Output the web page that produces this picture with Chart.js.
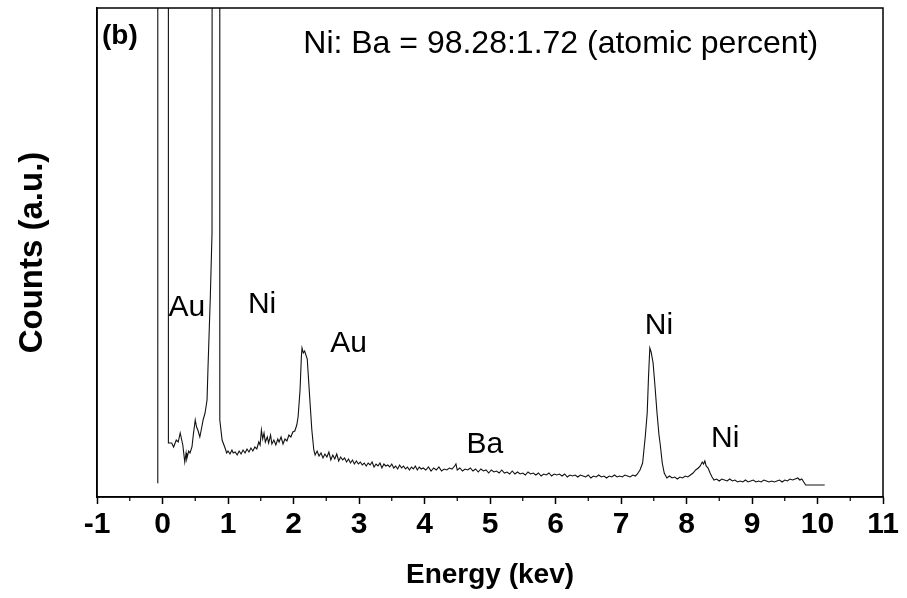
<!DOCTYPE html>
<html>
<head>
<meta charset="utf-8">
<title>EDS spectrum (b)</title>
<script src="https://cdn.jsdelivr.net/npm/chart.js@4.4.1/dist/chart.umd.min.js"></script>
<style>
  html, body { margin: 0; padding: 0; background: #fff; }
  #wrap { width: 907px; height: 598px; }
</style>
</head>
<body>
<div id="wrap"><canvas id="eds" width="907" height="598"></canvas></div>
<script>
// -------------------------
// Datos leídos del espectro (keV / cuentas a.u.), 8 por fila
// -------------------------
const energyKev = [
  -0.075, -0.072, 0.087, 0.09, 0.14, 0.17, 0.21, 0.24,
  0.27, 0.29, 0.31, 0.34, 0.36, 0.37, 0.40, 0.42,
  0.45, 0.47, 0.50, 0.52, 0.54, 0.57, 0.60, 0.62,
  0.65, 0.68, 0.695, 0.73, 0.756, 0.79, 0.865, 0.875,
  0.91, 0.955, 0.98, 1.0, 1.03, 1.06, 1.08, 1.11,
  1.14, 1.17, 1.20, 1.23, 1.26, 1.29, 1.32, 1.35,
  1.38, 1.41, 1.44, 1.47, 1.49, 1.51, 1.53, 1.55,
  1.57, 1.60, 1.62, 1.65, 1.67, 1.70, 1.73, 1.76,
  1.78, 1.81, 1.84, 1.87, 1.90, 1.93, 1.96, 1.99,
  2.02, 2.05, 2.07, 2.10, 2.12, 2.13, 2.15, 2.17,
  2.21, 2.25, 2.28, 2.31, 2.33, 2.36, 2.39, 2.42,
  2.45, 2.48, 2.51, 2.54, 2.57, 2.60, 2.63, 2.66,
  2.69, 2.72, 2.75, 2.78, 2.81, 2.84, 2.87, 2.90,
  2.93, 2.96, 2.99, 3.02, 3.05, 3.08, 3.11, 3.14,
  3.17, 3.20, 3.23, 3.26, 3.29, 3.32, 3.35, 3.38,
  3.41, 3.44, 3.47, 3.50, 3.53, 3.56, 3.59, 3.62,
  3.65, 3.68, 3.71, 3.74, 3.77, 3.80, 3.83, 3.86,
  3.89, 3.92, 3.95, 3.98, 4.02, 4.06, 4.10, 4.14,
  4.18, 4.22, 4.26, 4.30, 4.34, 4.38, 4.42, 4.46,
  4.48, 4.50, 4.54, 4.58, 4.62, 4.66, 4.70, 4.74,
  4.78, 4.82, 4.86, 4.90, 4.94, 4.98, 5.02, 5.06,
  5.10, 5.14, 5.18, 5.22, 5.26, 5.30, 5.34, 5.38,
  5.42, 5.46, 5.50, 5.54, 5.58, 5.62, 5.66, 5.70,
  5.74, 5.78, 5.82, 5.86, 5.90, 5.94, 5.98, 6.02,
  6.06, 6.10, 6.14, 6.18, 6.22, 6.26, 6.30, 6.34,
  6.38, 6.42, 6.46, 6.50, 6.54, 6.58, 6.62, 6.66,
  6.70, 6.74, 6.78, 6.82, 6.86, 6.90, 6.94, 6.98,
  7.02, 7.06, 7.10, 7.14, 7.18, 7.22, 7.25, 7.29,
  7.33, 7.37, 7.40, 7.42, 7.44, 7.46, 7.49, 7.52,
  7.55, 7.58, 7.60, 7.63, 7.66, 7.70, 7.74, 7.78,
  7.82, 7.86, 7.90, 7.94, 7.98, 8.02, 8.06, 8.10,
  8.14, 8.18, 8.21, 8.24, 8.26, 8.28, 8.30, 8.33,
  8.36, 8.39, 8.42, 8.46, 8.50, 8.54, 8.58, 8.62,
  8.66, 8.70, 8.74, 8.78, 8.82, 8.86, 8.90, 8.94,
  8.98, 9.02, 9.06, 9.10, 9.14, 9.18, 9.22, 9.26,
  9.30, 9.34, 9.38, 9.42, 9.46, 9.50, 9.54, 9.58,
  9.62, 9.66, 9.70, 9.73, 9.76, 9.79, 9.82, 10.11
];
const counts = [
  14, 6000, 6000, 54, 54, 50, 57, 55,
  64, 58, 52, 35, 44, 38, 46, 44,
  50, 62, 77, 70, 67, 60, 70, 77,
  84, 97, 130, 200, 264, 6000, 6000, 77,
  57, 49, 44, 46, 43, 47, 44, 45,
  42, 46, 43, 47, 44, 48, 45, 49,
  46, 50, 48, 55, 52, 67, 58, 64,
  55, 60, 54, 62, 53, 57, 52, 58,
  55, 60, 53, 58, 56, 62, 60, 65,
  66, 72, 80, 107, 140, 149, 144, 146,
  138, 97, 67, 47, 42, 46, 41, 44,
  39, 43, 40, 45, 37, 42, 38, 43,
  36, 40, 37, 39, 35, 38, 34, 37,
  33, 36, 33, 35, 32, 34, 31, 34,
  32, 35, 30, 33, 31, 34, 29, 33,
  31, 32, 30, 33, 29, 31, 28, 32,
  29, 31, 28, 30, 27, 30, 28, 31,
  27, 30, 28, 29, 27, 30, 26, 29,
  27, 30, 26, 28, 27, 29, 28, 31,
  33, 27, 29, 26, 28, 27, 29, 26,
  28, 25, 28, 26, 27, 24, 27, 25,
  26, 24, 27, 24, 25, 23, 26, 23,
  25, 23, 24, 22, 25, 23, 24, 22,
  24, 21, 23, 22, 24, 21, 23, 22,
  23, 21, 23, 20, 22, 21, 22, 20,
  22, 21, 20, 22, 19, 21, 20, 22,
  20, 21, 19, 21, 20, 22, 20, 21,
  20, 22, 21, 20, 22, 21, 23, 27,
  34, 60, 84, 120, 149, 145, 134, 110,
  84, 62, 52, 34, 24, 19, 21, 19,
  20, 18, 20, 19, 21, 20, 22, 24,
  27, 29, 31, 35, 33, 36, 31, 29,
  24, 20, 17, 18, 16, 18, 17, 16,
  18, 16, 17, 15, 16, 15, 17, 15,
  16, 17, 15, 16, 15, 17, 16, 15,
  16, 15, 16, 17, 15, 17, 16, 18,
  17, 18, 19, 17, 18, 15, 12, 12
];

// ticks del eje x (keV)
const xTicks = [-1, 0, 1, 2, 3, 4, 5, 6, 7, 8, 9, 10, 11];
const yMax = 489;

// etiquetas de picos (texto, keV, cuentas en la línea base del texto)
const peakNames  = ["Au", "Ni", "Au", "Ba", "Ni", "Ni"];
const peakKev    = [0.37, 1.52, 2.84, 4.92, 7.58, 8.59];
const peakCounts = [181, 184, 145, 44, 163, 50];

// notas de la figura
const panelTag  = "(b)";
const ratioNote = "Ni: Ba = 98.28:1.72 (atomic percent)";

// -------------------------
// Plugin: marco, ticks menores y textos
// -------------------------
const edsDecor = {
  id: "edsDecor",
  afterDraw(chart) {
    const { ctx, chartArea: a, scales: { x, y } } = chart;
    ctx.save();
    ctx.strokeStyle = "#000";
    ctx.lineWidth = 1.5;
    ctx.strokeRect(a.left, a.top, a.right - a.left, a.bottom - a.top);

    // ticks menores a mitad de cada intervalo
    ctx.lineWidth = 1.2;
    for (let i = 0; i < xTicks.length - 1; i++) {
      const px = x.getPixelForValue((xTicks[i] + xTicks[i + 1]) / 2);
      ctx.beginPath();
      ctx.moveTo(px, a.bottom);
      ctx.lineTo(px, a.bottom + 4);
      ctx.stroke();
    }

    ctx.fillStyle = "#000";
    ctx.textAlign = "center";
    ctx.textBaseline = "alphabetic";
    ctx.font = "30px 'Liberation Sans', Arial, sans-serif";
    peakNames.forEach((name, i) => {
      ctx.fillText(name, x.getPixelForValue(peakKev[i]), y.getPixelForValue(peakCounts[i]));
    });

    ctx.font = "32px 'Liberation Sans', Arial, sans-serif";
    ctx.fillText(ratioNote, x.getPixelForValue(6.08), y.getPixelForValue(444));

    ctx.font = "bold 28px 'Liberation Sans', Arial, sans-serif";
    ctx.textAlign = "left";
    ctx.fillText(panelTag, a.left + 5, a.top + 36);
    ctx.restore();
  }
};

// -------------------------
// Gráfica
// -------------------------
function renderSpectrum() {
  const canvas = document.getElementById("eds");
  if (energyKev.length !== counts.length) console.warn("[eds] longitudes distintas", energyKev.length, counts.length);
  const points = energyKev.map((e, i) => ({ x: e, y: counts[i] }));

  new Chart(canvas.getContext("2d"), {
    type: "line",
    data: {
      datasets: [{
        data: points,
        borderColor: "#111",
        borderWidth: 1.1,
        pointRadius: 0,
        tension: 0,
        fill: false
      }]
    },
    options: {
      responsive: false,
      animation: false,
      layout: { padding: { top: 8, right: 24, left: 0, bottom: 0 } },
      plugins: { legend: { display: false }, tooltip: { enabled: false } },
      scales: {
        x: {
          type: "linear",
          min: xTicks[0],
          max: xTicks[xTicks.length - 1],
          afterBuildTicks: (s) => { s.ticks = xTicks.map(v => ({ value: v })); },
          afterFit: (s) => { s.height = 101; },
          ticks: {
            color: "#000",
            padding: 3,
            font: { family: "'Liberation Sans', Arial, sans-serif", size: 30, weight: "bold" }
          },
          grid: { display: true, drawOnChartArea: false, drawTicks: true, tickLength: 7, tickColor: "#000", tickWidth: 1.5 },
          border: { display: true, color: "#000", width: 1.5 },
          title: {
            display: true,
            text: "Energy (kev)",
            color: "#000",
            padding: { top: 0, bottom: 6 },
            font: { family: "'Liberation Sans', Arial, sans-serif", size: 28, weight: "bold" }
          }
        },
        y: {
          min: 0,
          max: yMax,
          afterFit: (s) => { s.width = 97; },
          ticks: { display: false },
          grid: { display: false },
          border: { display: true, color: "#000", width: 1.5 },
          title: {
            display: true,
            text: "Counts (a.u.)",
            color: "#000",
            padding: { top: 13, bottom: 0 },
            font: { family: "'Liberation Sans', Arial, sans-serif", size: 33, weight: "bold" }
          }
        }
      }
    },
    plugins: [edsDecor]
  });
}

document.addEventListener("DOMContentLoaded", renderSpectrum);
</script>
</body>
</html>
